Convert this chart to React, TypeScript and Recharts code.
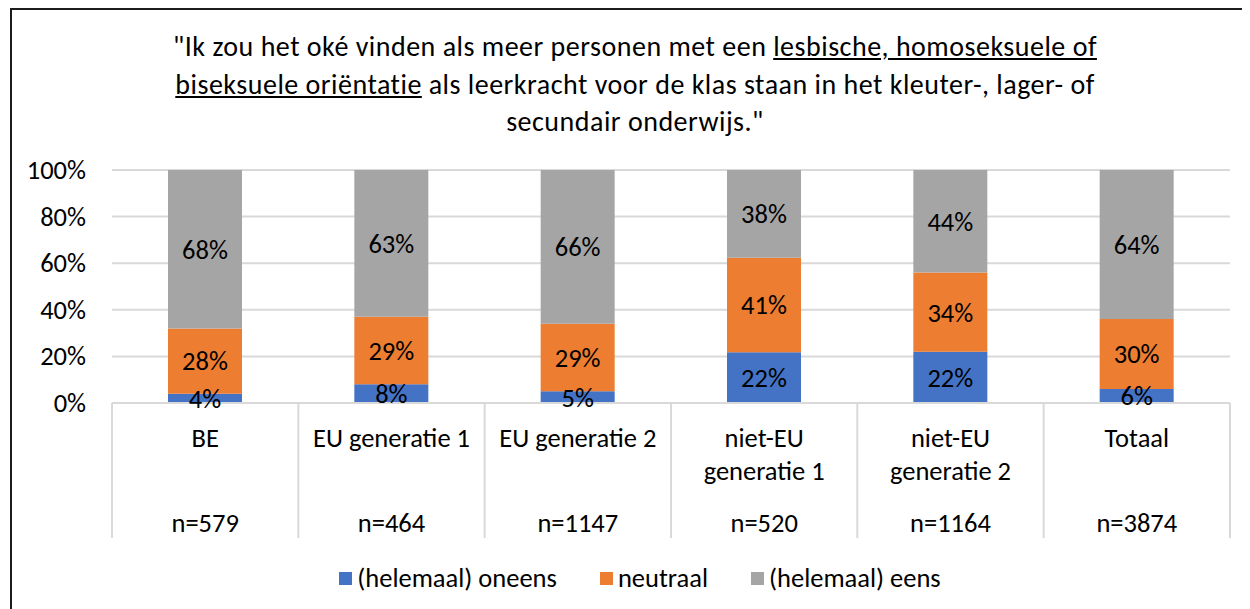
import React from 'react';
import { BarChart, Bar, XAxis, YAxis, CartesianGrid, LabelList } from 'recharts';

// Data
const categories = ['BE', 'EU generatie 1', 'EU generatie 2', 'niet-EU generatie 1', 'niet-EU generatie 2', 'Totaal'];
const categoryLines = [['BE'], ['EU generatie 1'], ['EU generatie 2'], ['niet-EU', 'generatie 1'], ['niet-EU', 'generatie 2'], ['Totaal']];
const sampleSizes = ['n=579', 'n=464', 'n=1147', 'n=520', 'n=1164', 'n=3874'];
const oneens = [4, 8, 5, 22, 22, 6];
const neutraal = [28, 29, 29, 41, 34, 30];
const eens = [68, 63, 66, 38, 44, 64];
const yTicks = [0, 0.2, 0.4, 0.6, 0.8, 1];

const series = [
  { key: 'oneens', name: '(helemaal) oneens', color: '#4472C4' },
  { key: 'neutraal', name: 'neutraal', color: '#ED7D31' },
  { key: 'eens', name: '(helemaal) eens', color: '#A5A5A5' },
];

const data = categories.map((c, i) => ({
  name: c,
  oneens: oneens[i],
  neutraal: neutraal[i],
  eens: eens[i],
}));

const FONT = 'Carlito, Calibri, Lato, sans-serif';
const FS = 26.5;
const W = 1250;
const H = 609;
const MARGIN = { top: 170, right: 20, bottom: 71, left: 0 };
const Y_AXIS_W = 112;
const X_AXIS_H = 135;
const BAND = (W - MARGIN.left - MARGIN.right - Y_AXIS_W) / categories.length;

const CategoryTick = ({ x, y, payload, index }: any) => {
  const lines = categoryLines[index] || [payload.value];
  const left = x - BAND / 2;
  return (
    <g>
      <line x1={left} x2={left} y1={y} y2={y + X_AXIS_H} stroke="#d9d9d9" strokeWidth={2} />
      {index === categories.length - 1 && (
        <line x1={left + BAND} x2={left + BAND} y1={y} y2={y + X_AXIS_H} stroke="#d9d9d9" strokeWidth={2} />
      )}
      {lines.map((l: string, i: number) => (
        <text key={i} x={x} y={y + 35 + i * 33} textAnchor="middle" dominantBaseline="central"
          fontSize={FS} fontFamily={FONT} fill="#000">
          {l}
        </text>
      ))}
      <text x={x} y={y + 120} textAnchor="middle" dominantBaseline="central"
        fontSize={FS} fontFamily={FONT} fill="#000">
        {sampleSizes[index]}
      </text>
    </g>
  );
};

const PctTick = ({ x, y, payload }: any) => (
  <text x={x - 26} y={y} textAnchor="end" dominantBaseline="central" fontSize={FS} fontFamily={FONT} fill="#000">
    {`${Math.round(payload.value * 100)}%`}
  </text>
);

export default function App() {
  return (
    <div style={{ position: 'relative', width: W, height: H, marginTop: -8, marginLeft: -8, background: '#fff', overflow: 'hidden' }}>
      <div style={{ position: 'absolute', left: 10, top: 8, width: W, height: H, borderTop: '2px solid #1c1c1c', borderLeft: '2px solid #1c1c1c' }} />
      <div style={{
        position: 'absolute', left: 60, width: 1150, top: 28, textAlign: 'center',
        fontFamily: FONT, fontSize: 28, letterSpacing: 0.5, lineHeight: '37.5px', color: '#000',
      }}>
        <div>"Ik zou het oké vinden als meer personen met een <span style={{ textDecoration: 'underline' }}>lesbische, homoseksuele of</span></div>
        <div><span style={{ textDecoration: 'underline' }}>biseksuele oriëntatie</span> als leerkracht voor de klas staan in het kleuter-, lager- of</div>
        <div>secundair onderwijs."</div>
      </div>
      <div style={{ position: 'absolute', left: 0, top: 0 }}>
        <BarChart width={W} height={H} data={data} margin={MARGIN} stackOffset="expand" barSize={74}>
          <CartesianGrid vertical={false} stroke="#d9d9d9" strokeWidth={2} />
          <XAxis dataKey="name" height={X_AXIS_H} tickSize={0} tickMargin={0} tickLine={false}
            axisLine={{ stroke: '#d9d9d9', strokeWidth: 2 }} tick={<CategoryTick />} interval={0} />
          <YAxis width={Y_AXIS_W} domain={[0, 1]} ticks={yTicks} axisLine={false} tickLine={false}
            tickSize={0} tickMargin={0} tick={<PctTick />} />
          {series.map((s) => (
            <Bar key={s.key} dataKey={s.key} name={s.name} stackId="a" fill={s.color} isAnimationActive={false}>
              <LabelList dataKey={s.key} position="center" formatter={(v: any) => `${v}%`}
                fontSize={FS} fontFamily={FONT} fill="#000" />
            </Bar>
          ))}
        </BarChart>
      </div>
      <div style={{
        position: 'absolute', left: 0, width: W, top: 562, display: 'flex', justifyContent: 'center',
        alignItems: 'center', fontFamily: FONT, fontSize: FS, color: '#000', paddingLeft: 30, boxSizing: 'border-box',
      }}>
        {series.map((s) => (
          <div key={s.key} style={{ display: 'flex', alignItems: 'center', margin: '0 21.5px' }}>
            <span style={{ width: 13, height: 13, background: s.color, display: 'inline-block', marginRight: 5 }} />
            <span>{s.name}</span>
          </div>
        ))}
      </div>
    </div>
  );
}
